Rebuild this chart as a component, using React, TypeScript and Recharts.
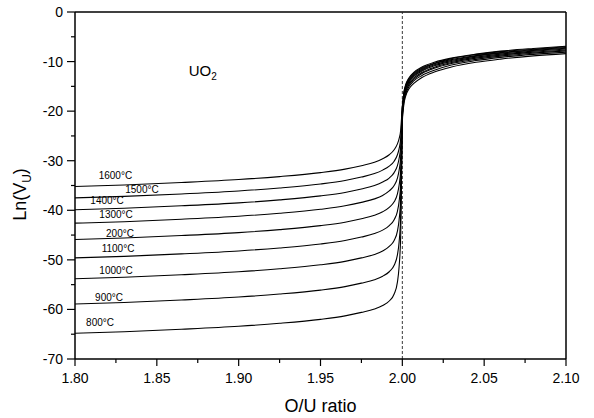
import React from 'react';
import { LineChart, Line, XAxis, YAxis, ReferenceLine, ReferenceDot, Label } from 'recharts';

// O/U ratio sample points (shared by every curve)
const oURatio = [
  1.8, 1.83, 1.865, 1.9, 1.925, 1.95, 1.965, 1.975, 1.983, 1.988, 1.992, 1.995, 1.997, 1.998, 1.999, 1.9995, 2.0,
  2.0005, 2.001, 2.002, 2.004, 2.007, 2.012, 2.02, 2.03, 2.045, 2.06, 2.08, 2.1,
];

// Ln(V_U), one array per temperature
const t1600 = [-35.2, -34.9, -34.4, -33.8, -33.2, -32.4, -31.7, -31.0, -30.3, -29.6, -28.8, -27.8, -26.6, -25.6, -23.8, -21.5, -19.0,
  -17.5, -16.1, -14.7, -13.3, -12.2, -11.1, -10.1, -9.3, -8.5, -7.9, -7.35, -6.9];
const t1500 = [-37.5, -37.2, -36.7, -36.1, -35.5, -34.7, -34.0, -33.3, -32.6, -31.9, -31.1, -30.1, -28.8, -27.6, -25.5, -22.8, -19.3,
  -17.7, -16.3, -14.9, -13.5, -12.4, -11.3, -10.3, -9.4, -8.6, -8.0, -7.5, -7.0];
const t1400 = [-39.9, -39.6, -39.1, -38.5, -37.9, -37.1, -36.4, -35.7, -35.0, -34.3, -33.5, -32.4, -31.0, -29.6, -27.2, -23.8, -19.6,
  -17.9, -16.5, -15.1, -13.7, -12.6, -11.5, -10.4, -9.6, -8.8, -8.2, -7.6, -7.15];
const t1300 = [-42.6, -42.3, -41.8, -41.2, -40.6, -39.8, -39.1, -38.4, -37.7, -37.0, -36.1, -35.0, -33.5, -32.0, -29.2, -25.0, -19.9,
  -18.1, -16.7, -15.3, -13.9, -12.8, -11.7, -10.6, -9.8, -8.9, -8.3, -7.75, -7.3];
const t1200 = [-45.9, -45.6, -45.1, -44.5, -43.9, -43.1, -42.4, -41.7, -41.0, -40.3, -39.4, -38.3, -36.7, -35.0, -31.8, -26.5, -20.3,
  -18.4, -17.0, -15.55, -14.1, -13.0, -11.9, -10.8, -10.0, -9.1, -8.5, -7.9, -7.45];
const t1100 = [-49.6, -49.3, -48.8, -48.2, -47.6, -46.8, -46.1, -45.4, -44.7, -44.0, -43.1, -41.9, -40.2, -38.3, -34.5, -28.0, -20.7,
  -18.7, -17.3, -15.9, -14.4, -13.3, -12.2, -11.1, -10.2, -9.3, -8.7, -8.1, -7.65];
const t1000 = [-53.8, -53.5, -53.0, -52.4, -51.8, -51.0, -50.3, -49.6, -48.9, -48.2, -47.3, -46.1, -44.2, -42.0, -37.5, -30.0, -21.1,
  -19.0, -17.6, -16.2, -14.7, -13.6, -12.4, -11.3, -10.4, -9.55, -8.9, -8.3, -7.85];
const t900 = [-58.9, -58.6, -58.1, -57.5, -56.9, -56.1, -55.4, -54.7, -54.0, -53.3, -52.4, -51.1, -49.0, -46.5, -41.0, -32.0, -21.6,
  -19.4, -18.0, -16.6, -15.1, -13.9, -12.8, -11.7, -10.7, -9.8, -9.15, -8.55, -8.1];
const t800 = [-64.8, -64.5, -64.0, -63.4, -62.8, -62.0, -61.3, -60.6, -59.9, -59.2, -58.3, -56.9, -54.5, -51.5, -45.0, -34.0, -22.2,
  -19.9, -18.5, -17.0, -15.55, -14.4, -13.2, -12.05, -11.1, -10.15, -9.5, -8.85, -8.4];

const seriesKeys = ['t1600', 't1500', 't1400', 't1300', 't1200', 't1100', 't1000', 't900', 't800'];
const seriesValues = [t1600, t1500, t1400, t1300, t1200, t1100, t1000, t900, t800];

// curve labels as printed in the figure, with their anchor (O/U, Ln V)
const tempLabels = ['1600°C', '1500°C', '1400°C', '1300°C', '200°C', '1100°C', '1000°C', '900°C', '800°C'];
const tempLabelX = [1.8247, 1.8409, 1.8196, 1.8251, 1.8275, 1.8263, 1.8251, 1.8208, 1.8153];
const tempLabelY = [-32.9, -35.9, -38.1, -40.9, -44.6, -47.8, -52.2, -57.5, -62.7];

const xTicks = [1.8, 1.825, 1.85, 1.875, 1.9, 1.925, 1.95, 1.975, 2.0, 2.025, 2.05, 2.075, 2.1];
const yTicks = [0, -5, -10, -15, -20, -25, -30, -35, -40, -45, -50, -55, -60, -65, -70];

const data = oURatio.map((x, i) => {
  const row: Record<string, number> = { x };
  seriesKeys.forEach((k, j) => {
    row[k] = seriesValues[j][i];
  });
  return row;
});

const FONT = '"Liberation Sans", Arial, Helvetica, sans-serif';

const XTick = (props: any) => {
  const { x, y, payload } = props;
  const v = payload.value as number;
  const major = Math.abs(v * 20 - Math.round(v * 20)) < 1e-6;
  return (
    <g>
      <line x1={x} x2={x} y1={y} y2={y + (major ? 7 : 4)} stroke="#000" strokeWidth={1.2} />
      {major && (
        <text x={x} y={y + 24} textAnchor="middle" fontSize={14} fill="#000" fontFamily={FONT}>
          {v.toFixed(2)}
        </text>
      )}
    </g>
  );
};

const YTick = (props: any) => {
  const { x, y, payload } = props;
  const v = payload.value as number;
  const major = Math.abs(v % 10) < 1e-6;
  return (
    <g>
      <line x1={x} x2={x - (major ? 8 : 4)} y1={y} y2={y} stroke="#000" strokeWidth={1.2} />
      {major && (
        <text x={x - 12} y={y + 5} textAnchor="end" fontSize={14} fill="#000" fontFamily={FONT}>
          {String(v)}
        </text>
      )}
    </g>
  );
};

const XTitle = (props: any) => {
  const vb = props.viewBox;
  return (
    <text x={vb.x + vb.width / 2} y={vb.y + 53} textAnchor="middle" fontSize={18} fill="#000" fontFamily={FONT}>
      O/U ratio
    </text>
  );
};

const YTitle = (props: any) => {
  const vb = props.viewBox;
  const cx = 26;
  const cy = vb.y + vb.height / 2 + 9;
  return (
    <text x={cx} y={cy} transform={`rotate(-90, ${cx}, ${cy})`} textAnchor="middle" fontSize={18} fill="#000" fontFamily={FONT}>
      Ln(V
      <tspan fontSize={12} dy={5}>U</tspan>
      <tspan dy={-5}>)</tspan>
    </text>
  );
};

const makeTempLabel = (text: string) => (props: any) => {
  const vb = props.viewBox;
  return (
    <text x={vb.x + vb.width / 2} y={vb.y + vb.height / 2 + 3.5} textAnchor="middle" fontSize={10} fill="#000" fontFamily={FONT}>
      {text}
    </text>
  );
};

const UO2Label = (props: any) => {
  const vb = props.viewBox;
  return (
    <text x={vb.x + vb.width / 2} y={vb.y + vb.height / 2 + 5} textAnchor="middle" fontSize={15} fill="#000" fontFamily={FONT}>
      UO
      <tspan fontSize={10} dy={4}>2</tspan>
    </text>
  );
};

export default function App() {
  return (
    <div style={{ position: 'absolute', left: 0, top: 0, width: 594, height: 418, background: '#fff' }}>
      <LineChart width={594} height={418} data={data} margin={{ top: 12, right: 28, bottom: 0, left: 0 }}>
        <XAxis
          dataKey="x"
          type="number"
          domain={[1.8, 2.1]}
          ticks={xTicks}
          interval={0}
          height={59}
          tickSize={0}
          tickMargin={0}
          tickLine={false}
          tick={<XTick />}
          axisLine={{ stroke: '#000', strokeWidth: 1.5 }}
          allowDataOverflow
        >
          <Label content={<XTitle />} />
        </XAxis>
        <YAxis
          type="number"
          domain={[-70, 0]}
          ticks={yTicks}
          interval={0}
          width={75}
          tickSize={0}
          tickMargin={0}
          tickLine={false}
          tick={<YTick />}
          axisLine={{ stroke: '#000', strokeWidth: 1.5 }}
          allowDataOverflow
        >
          <Label content={<YTitle />} />
        </YAxis>
        <ReferenceLine y={0} stroke="#000" strokeWidth={1.5} />
        <ReferenceLine x={2.1} stroke="#000" strokeWidth={1.5} />
        <ReferenceLine x={2.0} stroke="#222" strokeWidth={0.9} strokeDasharray="3 2" />
        {seriesKeys.map((k) => (
          <Line
            key={k}
            dataKey={k}
            type="monotone"
            stroke="#000"
            strokeWidth={1.1}
            dot={false}
            activeDot={false}
            isAnimationActive={false}
          />
        ))}
        {tempLabels.map((t, i) => (
          <ReferenceDot
            key={t}
            x={tempLabelX[i]}
            y={tempLabelY[i]}
            r={1}
            fill="none"
            stroke="none"
            label={makeTempLabel(t)}
          />
        ))}
        <ReferenceDot x={1.878} y={-11.9} r={1} fill="none" stroke="none" label={UO2Label} />
      </LineChart>
    </div>
  );
}
